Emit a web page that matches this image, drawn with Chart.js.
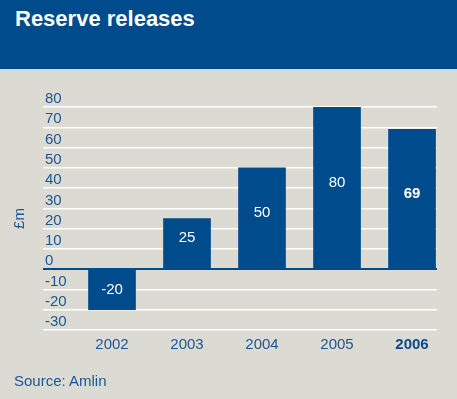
<!DOCTYPE html>
<html>
<head>
<meta charset="utf-8">
<script src="https://cdn.jsdelivr.net/npm/chart.js@4/dist/chart.umd.min.js"></script>
<style>
  html, body { margin: 0; padding: 0; }
  body { width: 457px; height: 399px; background: #dcdbd3; position: relative; overflow: hidden;
         font-family: "Liberation Sans", Arial, sans-serif; }
  .header { position: absolute; left: 0; top: 0; width: 457px; height: 69px; background: #004b8c; }
  .header h1 { margin: 0; position: absolute; left: 15px; top: 5px; color: #fff;
               font-size: 22px; font-weight: bold; line-height: 28px; }
  .source { position: absolute; left: 14px; top: 372px; color: #1c5597; font-size: 15px; line-height: 18px; }
  .wrap { position: absolute; left: 0; top: 0; width: 457px; height: 399px; }
</style>
</head>
<body>
<div class="header"><h1>Reserve releases</h1></div>
<div class="wrap"><canvas id="reserveChart"></canvas></div>
<div class="source">Source: Amlin</div>
<script>
// 연도별 준비금 환입 (£m)
const years = ['2002', '2003', '2004', '2005', '2006'];
const releases = [-20, 25, 50, 80, 69];
const yTicks = [-30, -20, -10, 0, 10, 20, 30, 40, 50, 60, 70, 80];

const blue = '#004b8c';
const textBlue = '#1c5597';

// 막대 안에 값 표시
const barLabels = {
    id: 'barLabels',
    afterDatasetsDraw(chart) {
        const ctx = chart.ctx;
        const meta = chart.getDatasetMeta(0);
        ctx.save();
        ctx.fillStyle = '#ffffff';
        ctx.textAlign = 'center';
        ctx.textBaseline = 'middle';
        meta.data.forEach((bar, i) => {
            const last = i === years.length - 1;
            ctx.font = (last ? 'bold ' : '') + '15px "Liberation Sans", Arial, sans-serif';
            let y = (bar.y + bar.base) / 2;
            if (releases[i] > 0) y -= 5;
            ctx.fillText(String(releases[i]), bar.x, y);
        });
        ctx.restore();
    }
};

const ctx = document.getElementById('reserveChart').getContext('2d');
new Chart(ctx, {
    type: 'bar',
    data: {
        datasets: [{
            data: years.map((y, i) => ({ x: Number(y), y: releases[i] })),
            backgroundColor: blue,
            barThickness: 47
        }]
    },
    options: {
        responsive: true,
        maintainAspectRatio: false,
        animation: false,
        layout: { padding: { left: 0, right: 20, top: 107, bottom: 39 } },
        plugins: { legend: { display: false }, tooltip: { enabled: false } },
        scales: {
            x: {
                type: 'linear',
                offset: false,
                min: 2001.08,
                max: 2006.333,
                afterBuildTicks: axis => { axis.ticks = years.map(y => ({ value: Number(y) })); },
                grid: { display: false, drawTicks: false, offset: false },
                border: { display: false },
                ticks: {
                    padding: 6,
                    autoSkip: false,
                    color: ctx => ctx.tick && ctx.tick.value === 2006 ? '#0c4a8c' : textBlue,
                    font: ctx => ({
                        family: '"Liberation Sans", Arial, sans-serif',
                        size: 15,
                        weight: ctx.tick && ctx.tick.value === 2006 ? 'bold' : 'normal'
                    }),
                    callback: v => String(v)
                }
            },
            y: {
                min: -30,
                max: 80,
                afterBuildTicks: axis => { axis.ticks = yTicks.map(v => ({ value: v })); },
                grid: {
                    drawTicks: false,
                    color: ctx => ctx.tick && ctx.tick.value === 0 ? blue : '#ffffff',
                    lineWidth: ctx => ctx.tick && ctx.tick.value === 0 ? 2 : 1.5
                },
                border: { display: false },
                ticks: {
                    mirror: true,
                    autoSkip: false,
                    padding: 2,
                    labelOffset: -8,
                    color: textBlue,
                    font: { family: '"Liberation Sans", Arial, sans-serif', size: 15 }
                },
                title: {
                    display: true,
                    text: '£m',
                    color: textBlue,
                    padding: { top: 11, bottom: 10 },
                    font: { family: '"Liberation Sans", Arial, sans-serif', size: 15 }
                }
            }
        }
    },
    plugins: [barLabels]
});
</script>
</body>
</html>
